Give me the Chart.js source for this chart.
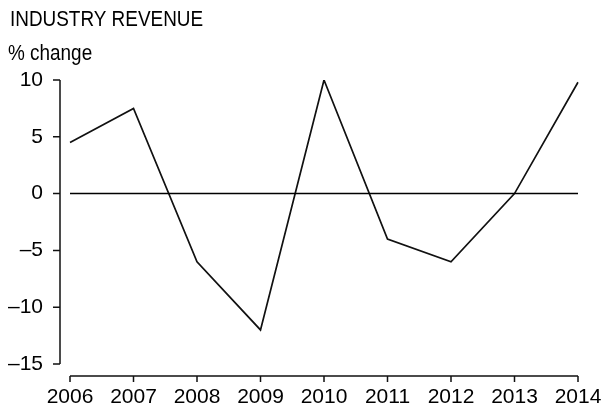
<!DOCTYPE html>
<html>
<head>
<meta charset="utf-8">
<script src="https://cdn.jsdelivr.net/npm/chart.js@4.4.1/dist/chart.umd.min.js"></script>
<style>
  html, body { margin: 0; padding: 0; background: #fff; }
</style>
</head>
<body>
<canvas id="chart" width="601" height="408"></canvas>
<script>
const years = ['2006', '2007', '2008', '2009', '2010', '2011', '2012', '2013', '2014'];
const revenueChange = [4.5, 7.5, -6, -12, 10, -4, -6, 0, 9.8];
const zeroLine = [0, 0, 0, 0, 0, 0, 0, 0, 0];
const yTicks = [10, 5, 0, -5, -10, -15];
const chartTitle = 'INDUSTRY REVENUE';
const unitLabel = '% change';

const TICK_FONT = { family: "'Liberation Sans', Arial, sans-serif", size: 21 };
const HEAD_FONT = "22px 'Liberation Sans', Arial, sans-serif";

// axis lines are drawn by hand: the y axis sits left of the first year and
// the x axis hangs below the plot, both only as long as their ticks
const absAxes = {
    id: 'absAxes',
    afterDraw(chart) {
        const { ctx, scales: { x, y } } = chart;
        const yTop = y.getPixelForValue(yTicks[0]);
        const yBot = y.getPixelForValue(yTicks[yTicks.length - 1]);
        const axisX = x.getPixelForValue(0) - 10;
        const xLeft = x.getPixelForValue(0);
        const xRight = x.getPixelForValue(years.length - 1);
        const axisY = yBot + 12;

        ctx.save();
        ctx.strokeStyle = '#111';
        ctx.lineWidth = 1.5;
        ctx.beginPath();
        ctx.moveTo(axisX, yTop);
        ctx.lineTo(axisX, yBot);
        yTicks.forEach(v => {
            const py = y.getPixelForValue(v);
            ctx.moveTo(axisX - 7, py);
            ctx.lineTo(axisX, py);
        });
        ctx.moveTo(xLeft, axisY);
        ctx.lineTo(xRight, axisY);
        years.forEach((_, i) => {
            const px = x.getPixelForValue(i);
            ctx.moveTo(px, axisY);
            ctx.lineTo(px, axisY + 6);
        });
        ctx.stroke();
        ctx.restore();

        // headings use a narrow face; squeeze the regular one
        ctx.save();
        ctx.fillStyle = '#000';
        ctx.font = HEAD_FONT;
        ctx.textBaseline = 'alphabetic';
        ctx.textAlign = 'left';
        ctx.scale(0.86, 1);
        ctx.fillText(chartTitle, 10 / 0.86, 26);
        ctx.fillText(unitLabel, 8 / 0.86, 60);
        ctx.restore();
    }
};

new Chart(document.getElementById('chart'), {
    type: 'line',
    data: {
        labels: years,
        datasets: [
            {
                data: zeroLine,
                borderColor: '#000',
                borderWidth: 1.5,
                pointRadius: 0,
                tension: 0
            },
            {
                data: revenueChange,
                borderColor: '#111',
                borderWidth: 1.7,
                pointRadius: 0,
                tension: 0
            }
        ]
    },
    options: {
        responsive: false,
        animation: false,
        layout: { padding: { top: 80, right: 0, left: 0, bottom: 0 } },
        plugins: {
            legend: { display: false },
            tooltip: { enabled: false }
        },
        scales: {
            x: {
                grid: { display: false, drawTicks: false },
                border: { display: false },
                ticks: { font: TICK_FONT, color: '#000', padding: 21, maxRotation: 0, autoSkip: false },
                afterFit: s => {
                    s.height = 44;
                    s.paddingLeft = 0;
                    s.paddingRight = 23;
                }
            },
            y: {
                min: -15,
                max: 10,
                grid: { display: false, drawTicks: false },
                border: { display: false },
                ticks: {
                    stepSize: 5,
                    font: TICK_FONT,
                    color: '#000',
                    padding: 27,
                    callback: v => String(v).replace('-', '\u2013')
                },
                afterFit: s => { s.width = 70; }
            }
        }
    },
    plugins: [absAxes]
});
</script>
</body>
</html>
